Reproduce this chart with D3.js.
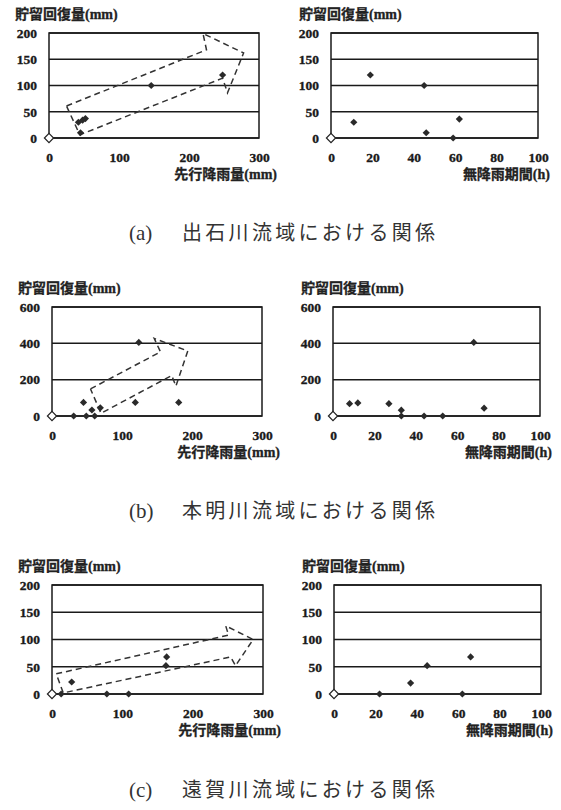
<!DOCTYPE html>
<html>
<head>
<meta charset="utf-8">
<script src="https://cdn.jsdelivr.net/npm/d3@7"></script>
<style>
  body { margin: 0; background: #fff; }
  text { font-family: "Liberation Serif", "Noto Sans CJK JP", serif; fill: #222; }
</style>
</head>
<body>
<svg id="fig" width="561" height="810"></svg>
<script>
// tick values
var rainTicks = [0, 100, 200, 300]
var dryTicks = [0, 20, 40, 60, 80, 100]
var ticks200 = [0, 50, 100, 150, 200]
var ticks600 = [0, 200, 400, 600]

// (a) 出石川
var izushiRain = [[42, 30], [45, 10], [48, 34], [52, 37], [146, 100], [248, 120]]
var izushiDry = [[11, 30], [19, 120], [45, 100], [46, 10], [59, 0], [62, 36]]
var izushiArrow = [[25, 61], [225, 168], [220, 199], [278, 162], [255, 86], [248, 114], [44, 6]]

// (b) 本明川
var honmyoRain = [[31, 0], [45, 75], [49, 0], [57, 33], [61, 0], [69, 45], [119, 75], [124, 405], [181, 75]]
var honmyoDry = [[8, 68], [12, 72], [27, 68], [33, 32], [33, 0], [44, 0], [53, 0], [68, 405], [73, 43]]
var honmyoArrow = [[55, 149], [155, 353], [146, 427], [194, 358], [177, 165], [171, 223], [70, 15]]

// (c) 遠賀川
var ongaRain = [[13, 0], [28, 22], [78, 0], [109, 0], [162, 52], [163, 68]]
var ongaDry = [[22, 0], [37, 20], [45, 52], [62, 0], [66, 68]]
var ongaArrow = [[6, 37], [251, 108], [247, 125], [286, 100], [261, 52], [254, 68], [16, 2]]

var yTitle = '貯留回復量(mm)'
var rainTitle = '先行降雨量(mm)'
var dryTitle = '無降雨期間(h)'
var captions = [
  { tag: '(a)', name: '出石川流域における関係' },
  { tag: '(b)', name: '本明川流域における関係' },
  { tag: '(c)', name: '遠賀川流域における関係' }
]

var svg = d3.select('#fig')

function diamond(r) {
  return 'M0,' + (-r) + 'L' + r + ',0L0,' + r + 'L' + (-r) + ',0Z'
}

function panel(o) {
  var x = d3.scaleLinear().domain([0, o.xTicks[o.xTicks.length - 1]]).range([o.x0, o.x1])
  var y = d3.scaleLinear().domain([0, o.yTicks[o.yTicks.length - 1]]).range([o.y1, o.y0])
  var g = svg.append('g')

  // grid lines
  g.selectAll('line.grid')
    .data(o.yTicks)
    .enter()
    .append('line')
    .attr('class', 'grid')
    .attr('x1', o.x0).attr('x2', o.x1)
    .attr('y1', d => y(d)).attr('y2', d => y(d))
    .attr('stroke', '#1a1a1a')
    .attr('stroke-width', 1.5)

  g.append('rect')
    .attr('x', o.x0).attr('y', o.y0)
    .attr('width', o.x1 - o.x0).attr('height', o.y1 - o.y0)
    .attr('fill', 'none')
    .attr('stroke', '#1a1a1a')
    .attr('stroke-width', 1.5)

  // axes (labels only)
  var ya = g.append('g')
    .attr('transform', `translate(${o.x0},0)`)
    .call(d3.axisLeft(y).tickValues(o.yTicks).tickSize(0).tickPadding(12).tickFormat(d3.format('d')))
  var xa = g.append('g')
    .attr('transform', `translate(0,${o.y1})`)
    .call(d3.axisBottom(x).tickValues(o.xTicks).tickSize(0).tickPadding(14).tickFormat(d3.format('d')))
  ya.select('.domain').remove()
  xa.select('.domain').remove()
  g.selectAll('.tick text')
    .style('font-family', '"Liberation Serif", "Times New Roman", serif')
    .style('font-size', '13.5px')
    .style('font-weight', 'bold')
    .style('fill', '#1a1a1a')
    .style('stroke', '#1a1a1a')
    .style('stroke-width', '0.35px')

  // dashed arrow
  if (o.arrow) {
    var line = d3.line().x(d => x(d[0])).y(d => y(d[1]))
    g.append('path')
      .attr('d', line(o.arrow.concat([o.arrow[0]])))
      .attr('fill', 'none')
      .attr('stroke', '#333')
      .attr('stroke-width', 1.5)
      .attr('stroke-dasharray', '6,4')
  }

  // points
  g.selectAll('path.pt')
    .data(o.points)
    .enter()
    .append('path')
    .attr('class', 'pt')
    .attr('d', diamond(3.6))
    .attr('transform', d => `translate(${x(d[0])},${y(d[1])})`)
    .attr('fill', '#2a2a2a')

  g.append('path')
    .attr('d', diamond(4.6))
    .attr('transform', `translate(${x(0)},${y(0)})`)
    .attr('fill', '#fff')
    .attr('stroke', '#222')
    .attr('stroke-width', 1.2)

  // titles
  g.append('text')
    .attr('x', o.x0 - o.ytOff)
    .attr('y', o.y0 - 14)
    .style('font-size', '14px')
    .style('font-weight', 'bold')
    .style('stroke', '#222')
    .style('stroke-width', '0.3px')
    .text(yTitle)
  g.append('text')
    .attr('x', o.x1 + o.xtOff)
    .attr('y', o.y1 + 41)
    .attr('text-anchor', 'end')
    .style('font-size', '14px')
    .style('font-weight', 'bold')
    .style('stroke', '#222')
    .style('stroke-width', '0.3px')
    .text(o.xTitle)
}

var rows = [
  { y0: 33, y1: 138, yTicks: ticks200, rain: izushiRain, dry: izushiDry, arrow: izushiArrow, lx: [49, 259], rx: [331, 538], cap: 240 },
  { y0: 307, y1: 416, yTicks: ticks600, rain: honmyoRain, dry: honmyoDry, arrow: honmyoArrow, lx: [52, 262], rx: [333, 540], cap: 518 },
  { y0: 585, y1: 694, yTicks: ticks200, rain: ongaRain, dry: ongaDry, arrow: ongaArrow, lx: [52, 263], rx: [334, 541], cap: 797 }
]

rows.forEach((r, i) => {
  panel({ x0: r.lx[0], x1: r.lx[1], y0: r.y0, y1: r.y1, xTicks: rainTicks, yTicks: r.yTicks,
    points: r.rain, arrow: r.arrow, xTitle: rainTitle, ytOff: 34, xtOff: 18 })
  panel({ x0: r.rx[0], x1: r.rx[1], y0: r.y0, y1: r.y1, xTicks: dryTicks, yTicks: r.yTicks,
    points: r.dry, arrow: null, xTitle: dryTitle, ytOff: 32, xtOff: 12 })

  svg.append('text')
    .attr('x', 129)
    .attr('y', r.cap)
    .style('font-size', '21px')
    .style('fill', '#333')
    .text(captions[i].tag)
  svg.append('text')
    .attr('x', 182)
    .attr('y', r.cap)
    .style('font-size', '20px')
    .style('fill', '#333')
    .attr('textLength', 253)
    .attr('lengthAdjust', 'spacing')
    .text(captions[i].name)
})
</script>
</body>
</html>
